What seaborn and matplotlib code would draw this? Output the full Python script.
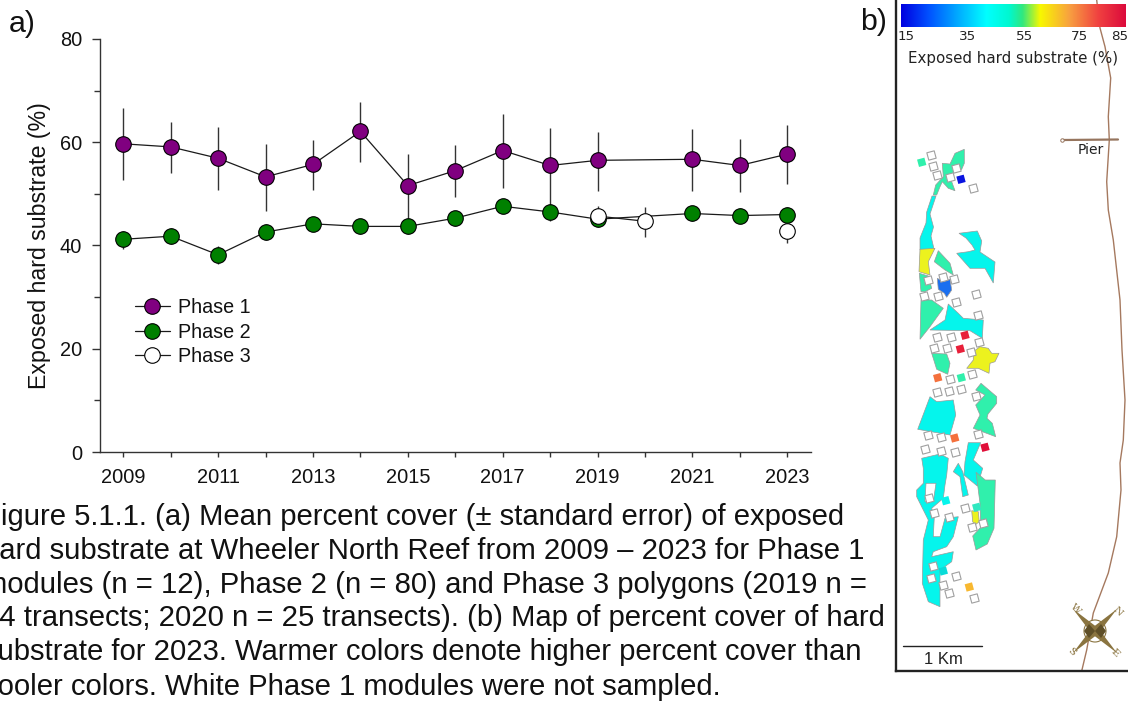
import numpy as np
import pandas as pd
import matplotlib.pyplot as plt
from matplotlib.colors import LinearSegmentedColormap
from matplotlib.markers import MarkerStyle
from matplotlib.patches import Circle
from matplotlib.transforms import Affine2D
import seaborn as sns

# panel a values
years_1 = [2009, 2010, 2011, 2012, 2013, 2014, 2015, 2016, 2017, 2018, 2019, 2021, 2022, 2023]
phase_1 = [59.7, 59.1, 56.9, 53.3, 55.7, 62.1, 51.6, 54.5, 58.4, 55.5, 56.5, 56.7, 55.5, 57.7]
phase_1_hi = [66.6, 63.9, 63.0, 59.7, 60.4, 67.7, 57.7, 59.4, 65.5, 62.8, 62.0, 62.5, 60.6, 63.3]
phase_1_lo = [52.7, 54.0, 50.7, 46.7, 50.7, 56.2, 43.7, 49.3, 51.1, 46.5, 50.6, 50.6, 50.3, 52.0]

years_2 = [2009, 2010, 2011, 2012, 2013, 2014, 2015, 2016, 2017, 2018, 2019, 2021, 2022, 2023]
phase_2 = [41.2, 41.8, 38.2, 42.6, 44.2, 43.7, 43.7, 45.3, 47.6, 46.5, 45.1, 46.2, 45.8, 46.0]
phase_2_hi = [42.9, 43.3, 39.9, 44.1, 45.6, 45.1, 45.2, 46.6, 49.0, 48.0, 46.8, 47.6, 47.2, 47.5]
phase_2_lo = [39.4, 40.2, 36.4, 41.0, 42.8, 42.2, 42.2, 43.8, 46.2, 44.8, 43.5, 44.8, 44.4, 44.5]

years_3a = [2019, 2020]
phase_3a = [45.7, 44.7]
years_3b = [2023]
phase_3b = [42.9]
years_3 = [2019, 2020, 2023]
phase_3_hi = [47.6, 47.4, 45.2]
phase_3_lo = [43.8, 41.6, 40.5]

xlabels = ['2009', '2011', '2013', '2015', '2017', '2019', '2021', '2023']
caption = [
    'Figure 5.1.1. (a) Mean percent cover (\u00b1 standard error) of exposed',
    'hard substrate at Wheeler North Reef from 2009 \u2013 2023 for Phase 1',
    'modules (n = 12), Phase 2 (n = 80) and Phase 3 polygons (2019 n =',
    '24 transects; 2020 n = 25 transects). (b) Map of percent cover of hard',
    'substrate for 2023. Warmer colors denote higher percent cover than',
    'cooler colors. White Phase 1 modules were not sampled.',
]

# panel b: map coordinates and percent colours
CYAN = '#05f5ec'
MINT = '#30f0ac'
YELLOW = '#ecf21e'
reef_polygons = [
    (MINT, [(964.3, 149.3), (964.3, 163.3), (961.7, 169.3), (955, 171.7), (950, 175), (951.7, 181.7), (955, 190.7), (948.3, 188.3), (942.3, 181.7), (940, 186.7), (936.7, 195), (933.3, 195), (935.7, 185), (943.3, 176.7), (942.3, 163.3), (950, 164), (955, 153.3)]),
    (CYAN, [(932, 196), (926.7, 212), (926, 223), (920, 238), (920, 250), (934, 249), (931, 236), (933.5, 227), (930, 214), (936, 196)]),
    (YELLOW, [(920, 249.3), (935, 248.3), (928.3, 261.7), (930, 275), (919, 271.7)]),
    (MINT, [(919.3, 273.3), (928.3, 276), (931.7, 288.3), (925, 291.7), (921, 291.7)]),
    (MINT, [(938.3, 250.7), (950, 263.3), (953.3, 275), (945, 270), (934.3, 261.7)]),
    ('#1a6ff0', [(937.3, 278.3), (943.3, 281.7), (950, 279.3), (951.7, 290), (946.7, 297.3), (944.3, 293.3), (938.3, 289.3)]),
    (CYAN, [(959, 233.3), (977.3, 231), (981.7, 241), (980, 252), (995, 262), (993.3, 283), (985, 268.3), (970, 268.3), (956.7, 253.3), (968.3, 251.7), (975, 250), (972, 245), (966, 238)]),
    (MINT, [(921, 300), (931.7, 300), (943.3, 308.3), (930, 326.7), (920, 339.3)]),
    (CYAN, [(948.3, 304), (958.3, 313.3), (963.3, 318.3), (983.3, 320), (982.3, 338.3), (970, 330.7), (930, 330), (945, 320)]),
    (MINT, [(931.7, 353.3), (946.7, 354), (950, 363.3), (947.7, 374.3), (936.7, 369.3)]),
    (YELLOW, [(980, 346.7), (988.3, 348.3), (991.7, 353.3), (999, 353.3), (995, 361.7), (990, 363.3), (989, 373.3), (978.3, 368.3), (966.7, 368.3), (973.3, 360), (973.3, 351.7)]),
    (CYAN, [(930, 396.7), (936.7, 401.7), (953.3, 400), (955.7, 415), (950, 435), (917.7, 429.3)]),
    (MINT, [(981, 383.3), (996.7, 396.7), (996.7, 403.3), (988, 414), (987, 418.3), (992.3, 423.3), (995.7, 436.7), (973.3, 428.3), (980, 415), (975.7, 405), (985, 395), (975.7, 390)]),
    (CYAN, [(968.3, 442.7), (980.7, 442.7), (973.3, 460), (982.7, 468.3), (977.3, 486), (964, 475), (965, 461.7)]),
    (CYAN, [(953.3, 471.7), (958.3, 463.3), (962.7, 471.7), (968.3, 495), (962.7, 496.7), (960, 476.7)]),
    (CYAN, [(921.7, 458.3), (940, 454), (948.3, 458.3), (946.7, 475), (945, 485), (943.3, 498.3), (931.7, 508.3), (934.3, 516.7), (933.3, 536.7), (940, 536.7), (945, 518.3), (958.3, 516.7), (953.3, 536.7), (946.7, 546.7), (933.3, 551.7), (931.7, 556.7), (953.3, 551.7), (951.7, 561.7), (940, 570), (940, 606.7), (928.3, 601.7), (922.3, 583.3), (923.3, 540), (928.3, 520), (916.7, 496.7), (916.7, 490), (923.3, 483.3), (923.3, 468.3)]),
    ('white', [(926, 483.3), (936, 483.3), (933.3, 501.7), (925, 501.7)]),
    (MINT, [(976, 472.3), (985.3, 480), (995.3, 480), (994, 528.3), (987.3, 544), (976, 550), (972.7, 536), (980.7, 527.3), (980, 503.3)]),
    (YELLOW, [(971.7, 510.7), (978.3, 511.7), (979.3, 521.7), (975, 525), (972.7, 521.7)]),
]
module_x = [931, 932.7, 956, 937.3, 949.7, 972.7, 927.7, 943.3, 954, 976.3, 924.3, 938.3, 956.3, 977.7, 937.3, 951.3, 978.7, 934.3, 946.7, 971, 950, 972.3, 937, 949, 961, 975.7, 928, 941.3, 978.3, 925.3, 941, 955.3, 929.3, 934.3, 949.3, 965, 971.7, 982.7, 932.7, 931.3, 955.7, 943, 949.3, 974]
module_y = [155, 165.7, 167.7, 175.3, 177, 188, 280, 276.7, 278.7, 294.3, 296.3, 295.7, 302, 314.7, 337, 336.7, 342, 347.7, 347.7, 352.3, 379, 373.7, 392, 391.3, 388.7, 396, 435.3, 437.3, 434.3, 448.7, 451.3, 452.3, 498.3, 512.7, 517.3, 507.7, 527, 523.3, 566, 578, 576, 585, 593.3, 598.3]
sampled_x = [961, 921.7, 965, 960.3, 937.7, 954.7, 985, 961.3, 969.3, 945.7, 943.3, 976.7]
sampled_y = [179.3, 162.3, 335.3, 349, 377.7, 438, 447.3, 377.7, 587, 500.7, 571, 507.3]
sampled_c = ['#0a14e0', '#30f0ac', '#e8203a', '#e8203a', '#f4703c', '#f4703c', '#e0103a', '#30f0ac', '#f8b830', CYAN, '#0adcd8', '#30e8c0']
coast_x = [1096.7, 1100, 1105, 1110.7, 1108.3, 1109.3, 1106.7, 1108.3, 1113.3, 1120, 1122, 1125, 1123.3, 1120, 1121, 1116.7, 1108.3, 1093.3, 1086.7, 1081.7]
coast_y = [0, 28, 46.7, 78, 116.7, 140, 181.7, 210, 240, 300, 350, 400, 440, 463, 490, 536.7, 573, 613, 650, 671]
bar_colors = ['#0000e0', '#0050ff', '#00b0ff', '#00ffff', '#00f8d0', '#30e880', '#f8f800', '#f8a040', '#f04040', '#dc0a3c']
bar_stops = [0, 0.12, 0.26, 0.38, 0.48, 0.54, 0.62, 0.75, 0.88, 1]
bar_labels = ['15', '35', '55', '75', '85']
bar_label_x = [906, 967.7, 1025, 1079, 1120]

sns.set_style('white')
plt.rcParams['font.family'] = ['Liberation Sans', 'DejaVu Sans']
plt.rcParams['text.color'] = '#111111'
plt.rcParams['axes.labelcolor'] = '#111111'
plt.rcParams['xtick.labelcolor'] = '#111111'
plt.rcParams['ytick.labelcolor'] = '#111111'

W, H = 1128, 704
fig = plt.figure(figsize=(W / 100, H / 100), dpi=100)
ax = fig.add_axes([100 / W, 1 - 452 / H, 711 / W, 413 / H])


def draw_phase(years, means, face, label=None):
    df = pd.DataFrame({'year': years, 'cover': means})
    sns.lineplot(data=df, x='year', y='cover', ax=ax, color='#1a1a1a', linewidth=0.9,
                 marker='o', markersize=11.2, markerfacecolor=face, markeredgecolor='black',
                 markeredgewidth=0.8, label=label, legend=False, errorbar=None, zorder=3)


ax.vlines(years_1, phase_1_lo, phase_1_hi, color='#333333', lw=1, zorder=2)
ax.vlines(years_2, phase_2_lo, phase_2_hi, color='#333333', lw=1, zorder=2)
ax.vlines(years_3, phase_3_lo, phase_3_hi, color='#333333', lw=1, zorder=2)
draw_phase(years_1, phase_1, 'purple', 'Phase 1')
draw_phase(years_2, phase_2, 'green', 'Phase 2')
draw_phase(years_3a, phase_3a, 'white', 'Phase 3')
draw_phase(years_3b, phase_3b, 'white')

ax.set_xlim(2008.51, 2023.5)
ax.set_ylim(0, 80)
ax.set_xticks(range(2009, 2024))
ax.set_xticklabels([str(y) if str(y) in xlabels else '' for y in range(2009, 2024)])
ax.set_yticks([0, 20, 40, 60, 80])
ax.set_yticks([10, 30, 50, 70], minor=True)
ax.tick_params(axis='x', which='major', bottom=True, length=3.6, width=1, color='#333333', labelsize=14.4, pad=8)
ax.tick_params(axis='y', which='major', left=True, length=6, width=1, color='#333333', labelsize=14.4, pad=7)
ax.tick_params(axis='y', which='minor', left=True, length=4, width=1, color='#333333')
ax.set_xlabel('')
ax.set_ylabel('Exposed hard substrate (%)', fontsize=16.7, labelpad=6)
sns.despine(ax=ax)
for side in ['left', 'bottom']:
    ax.spines[side].set_color('#333333')
    ax.spines[side].set_linewidth(1)
ax.legend(loc='upper left', bbox_to_anchor=(0.049, 0.373), frameon=False, fontsize=14.2,
          handlelength=1.78, handletextpad=0.42, labelspacing=0.29, borderpad=0, borderaxespad=0)

# map panel, axes use the map's own coordinates
mp = fig.add_axes([896 / W, 1 - 671 / H, 232 / W, 671 / H])
mp.set_xlim(896, 1128)
mp.set_ylim(671, 0)
mp.set_xticks([])
mp.set_yticks([])
sns.despine(ax=mp)
mp.spines['left'].set_linewidth(1.7)
mp.spines['bottom'].set_linewidth(1.7)
mp.spines['left'].set_color('#222222')
mp.spines['bottom'].set_color('#222222')

sns.lineplot(x=coast_x, y=coast_y, ax=mp, color='#a5795f', linewidth=1, sort=False, estimator=None, zorder=1)
sns.lineplot(x=[1063, 1118], y=[140, 139.5], ax=mp, color='#96755e', linewidth=1.6, sort=False, estimator=None, zorder=1)
mp.plot([1062], [140], marker='o', ms=2.5, mfc='white', mec='#96755e', mew=0.7, zorder=1)

for col, pts in reef_polygons:
    xs, ys = zip(*pts)
    mp.fill(xs, ys, facecolor=col, edgecolor='#9a9a9a', linewidth=0.5, zorder=2)

tilted = MarkerStyle('s', transform=Affine2D().rotate_deg(15))
sns.scatterplot(x=module_x, y=module_y, ax=mp, marker=tilted, s=30, color='white', edgecolor='#a0a0a0', linewidth=0.8, zorder=3)
sns.scatterplot(x=sampled_x, y=sampled_y, ax=mp, marker=tilted, s=30, hue=sampled_c, palette={c: c for c in sampled_c},
                edgecolor='none', linewidth=0, legend=False, zorder=3)

# colour bar
cmap = LinearSegmentedColormap.from_list('cover', list(zip(bar_stops, bar_colors)))
mp.imshow(np.linspace(0, 1, 256)[None, :], cmap=cmap, extent=(900.7, 1125, 27, 4), aspect='auto', zorder=4)
mp.set_xlim(896, 1128)
mp.set_ylim(671, 0)
for xp, lab in zip(bar_label_x, bar_labels):
    mp.text(xp, 36, lab, ha='center', va='center', fontsize=9.7, family='DejaVu Sans', color='#222222')
mp.text(1013, 58, 'Exposed hard substrate (%)', ha='center', va='center', fontsize=10.8, family='DejaVu Sans', color='#222222')
mp.text(1090.7, 150, 'Pier', ha='center', va='center', fontsize=10, family='DejaVu Sans', color='#222222')

# scale bar and compass
mp.plot([903, 982], [646, 646], color='#222222', lw=1)
mp.text(943, 660, '1 Km', ha='center', va='center', fontsize=12, color='#222222')
mp.add_patch(Circle((1095, 631), 11, facecolor='white', edgecolor='#8a7440', lw=0.8, zorder=5))
mp.fill([1073, 1098, 1117, 1092], [609, 628, 653, 634], facecolor='#8a7440', edgecolor='none', zorder=6)
mp.fill([1117, 1098, 1073, 1092], [609, 634, 653, 628], facecolor='#8a7440', edgecolor='none', zorder=6)
mp.fill([1095, 1089, 1084, 1089], [631, 624, 631, 638], facecolor='#5f4f28', edgecolor='none', zorder=7)
mp.fill([1095, 1101, 1106, 1101], [631, 624, 631, 638], facecolor='#5f4f28', edgecolor='none', zorder=7)
for lab, xp, yp in [('W', 1075, 609), ('N', 1117.5, 611.5), ('E', 1115, 653), ('S', 1071.5, 652)]:
    mp.text(xp, yp, lab, ha='center', va='center', rotation=-45, fontsize=7.5, family='DejaVu Serif', color='#8a7440')

# panel letters and caption
fig.text(9 / W, 1 - 24 / H, 'a)', fontsize=21.9, ha='left', va='center')
fig.text(860 / W, 1 - 22 / H, 'b)', fontsize=21.9, ha='left', va='center')
caption_y = [517, 551, 585, 618, 652, 687]
for yp, line in zip(caption_y, caption):
    fig.text(-17 / W, 1 - yp / H, line, fontsize=21.05, ha='left', va='center', color='#111111')

fig.savefig('out.png', dpi=100)
